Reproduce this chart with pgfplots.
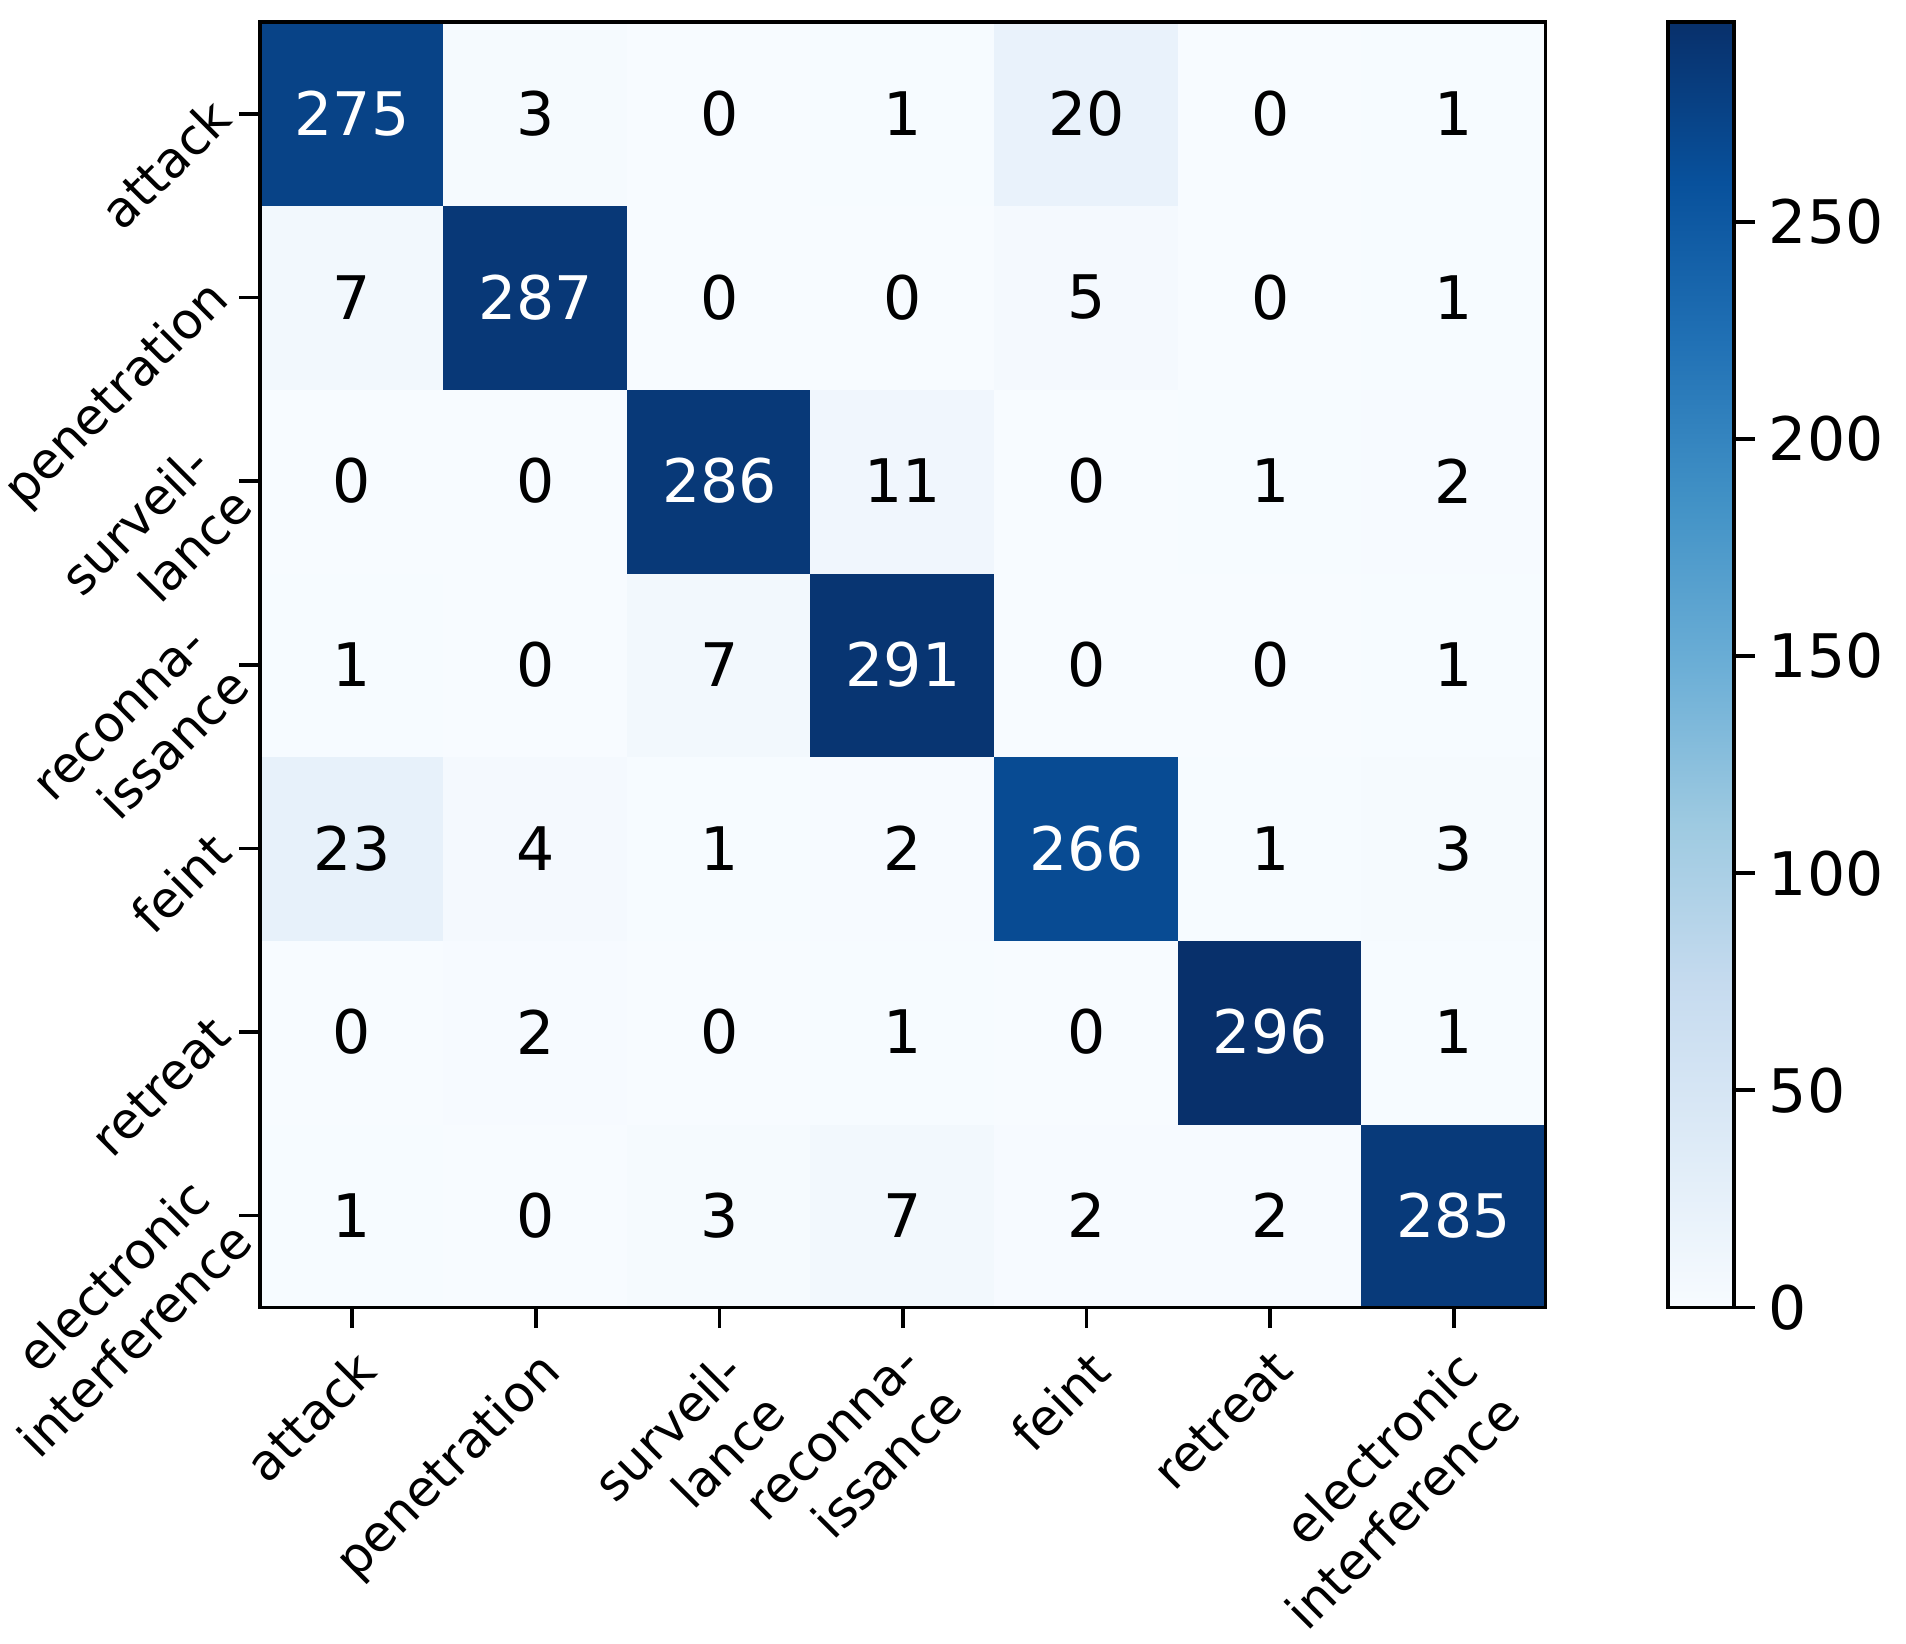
\documentclass[border=0pt]{standalone}
\usepackage{fontspec}
\setmainfont{DejaVu Sans}
\usepackage{pgfplots}
\usepackage{pgfplotstable}
\pgfplotsset{compat=1.18}
\pgfplotsset{colormap={blues}{rgb255=(247,251,255) rgb255=(222,235,247) rgb255=(198,219,239) rgb255=(158,202,225) rgb255=(107,174,214) rgb255=(66,146,198) rgb255=(33,113,181) rgb255=(8,81,156) rgb255=(8,48,107)}}
% rows bottom-up: y=0 electronic interference ... y=6 attack
\pgfplotstableread{
x y c
0 0 1
1 0 0
2 0 3
3 0 7
4 0 2
5 0 2
6 0 285
0 1 0
1 1 2
2 1 0
3 1 1
4 1 0
5 1 296
6 1 1
0 2 23
1 2 4
2 2 1
3 2 2
4 2 266
5 2 1
6 2 3
0 3 1
1 3 0
2 3 7
3 3 291
4 3 0
5 3 0
6 3 1
0 4 0
1 4 0
2 4 286
3 4 11
4 4 0
5 4 1
6 4 2
0 5 7
1 5 287
2 5 0
3 5 0
4 5 5
5 5 0
6 5 1
0 6 275
1 6 3
2 6 0
3 6 1
4 6 20
5 6 0
6 6 1
}\cm
\begin{document}
\begin{tikzpicture}
\def\fs{\fontsize{12.5}{15}\selectfont}
\def\fb{\fontsize{15}{18}\selectfont}
\begin{axis}[
  name=ax,
  scale only axis,
  width=321pt, height=321pt,
  xmin=-0.5, xmax=6.5, ymin=-0.5, ymax=6.5,
  colormap name=blues,
  point meta min=0, point meta max=296,
  xtick={0,...,6}, ytick={0,...,6},
  xticklabels={attack,penetration,{surveil-\\lance},{reconna-\\issance},feint,retreat,{electronic\\interference}},
  yticklabels={{electronic\\interference},retreat,feint,{reconna-\\issance},{surveil-\\lance},penetration,attack},
  xticklabel style={xshift=0pt, yshift=-4.5pt, rotate=45, anchor=north east, align=right, font=\fs, inner sep=0pt},
  yticklabel style={xshift=-4.5pt, yshift=1.5pt, rotate=45, anchor=east, align=right, font=\fs, inner sep=0pt},
  tick align=outside, tick pos=left,
  major tick length=5.2pt,
  every tick/.style={black, line width=0.9pt},
  axis line style={line width=0.9pt},
  axis on top,
]
\addplot[matrix plot*, mesh/cols=7, point meta=explicit] table[x=x, y=y, meta=c] {\cm};
\addplot[draw=none, mark=none, point meta=explicit symbolic,
  nodes near coords={\ifnum\pgfplotspointmeta>148\relax\color{white}\fi\pgfplotspointmeta},
  every node near coord/.append style={anchor=center, font=\fb, inner sep=0pt}]
  table[x=x, y=y, meta=c] {\cm};
\end{axis}
% colour bar
\begin{axis}[
  at={(ax.north east)}, anchor=north west, xshift=30.5pt,
  scale only axis, width=16.5pt, height=321pt,
  xmin=0, xmax=1, ymin=0, ymax=296,
  xtick=\empty,
  ytick={0,50,...,250},
  ytick pos=right, yticklabel pos=right,
  tick align=outside, major tick length=5.2pt,
  every tick/.style={black, line width=0.9pt},
  axis line style={line width=0.9pt},
  yticklabel style={font=\fb, /pgf/number format/assume math mode=true},
  colormap name=blues, point meta min=0, point meta max=296,
  axis on top,
]
\addplot[surf, shader=interp, point meta=y, mesh/cols=2] coordinates {(0,0) (1,0) (0,296) (1,296)};
\end{axis}
\pgfresetboundingbox
\path[use as bounding box] ([xshift=-65pt, yshift=-84pt]ax.south west) rectangle ([xshift=90pt, yshift=5.5pt]ax.north east);
\end{tikzpicture}
\end{document}
